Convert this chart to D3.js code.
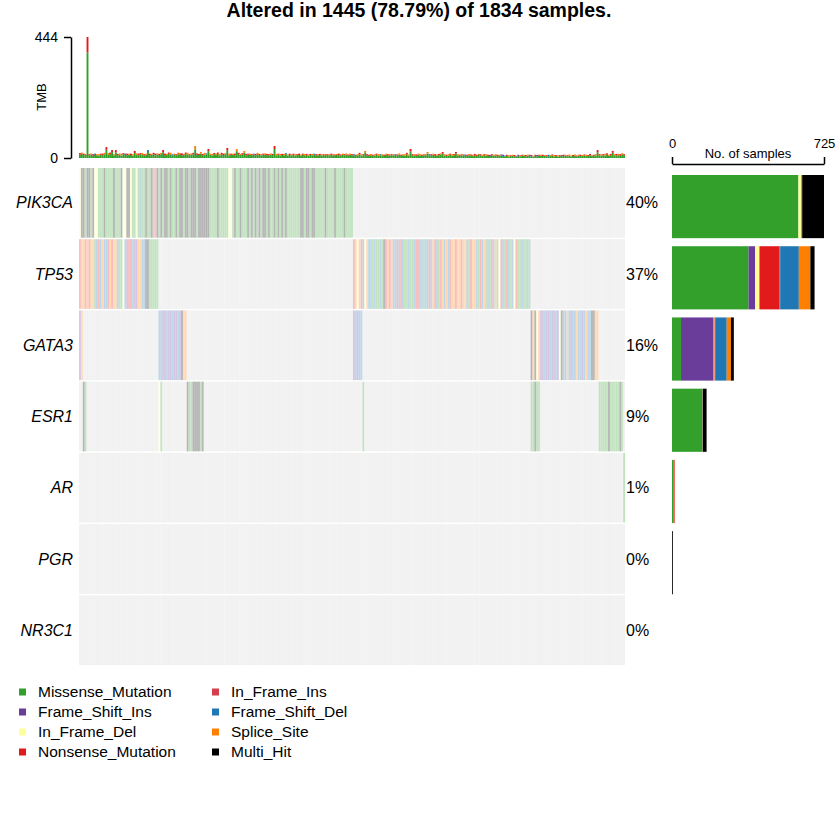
<!DOCTYPE html>
<html>
<head>
<meta charset="utf-8">
<script src="https://cdn.jsdelivr.net/npm/d3@7"></script>
<style>
  body { margin: 0; background: #fff; }
  svg { display: block; font-family: "Liberation Sans", Arial, sans-serif; }
</style>
</head>
<body>
<svg id="chart" width="840" height="840"></svg>
<script>
const genes = ["PIK3CA", "TP53", "GATA3", "ESR1", "AR", "PGR", "NR3C1"];
const pctLabels = ["40%", "37%", "16%", "9%", "1%", "0%", "0%"];
const types = ["Missense_Mutation", "Frame_Shift_Ins", "In_Frame_Del", "Nonsense_Mutation",
               "In_Frame_Ins", "Frame_Shift_Del", "Splice_Site", "Multi_Hit"];
const typeCodes = ["M", "I", "d", "N", "i", "D", "S", "X"];
const typeColors = ["#33A02C", "#6A3D9A", "#FFFF99", "#E31A1C",
                    "#D53E4F", "#1F78B4", "#FF7F00", "#000000"];

// no. of samples per gene and variant type (same order as types)
const geneCounts = [
  [603, 0, 14, 0, 4, 0, 0, 104],
  [365, 32, 20, 96, 3, 89, 55, 20],
  [43, 156, 4, 3, 0, 55, 20, 14],
  [144, 0, 2, 0, 0, 0, 0, 19],
  [9, 0, 2, 3, 0, 0, 0, 0],
  [0, 0, 0, 0, 0, 0, 0, 4],
  [0, 0, 0, 0, 0, 0, 0, 0]
];
const totalSamples = 1834;
const alteredSamples = 1445;
const samplesPerCell = 5;   // one drawn column = 5 altered samples
const maxBar = 725;
const maxTmb = 444;

// oncomatrix, [first column, codes]; "." = not mutated
const pik3caCells = [[0,
  "dXXMXXMXdd" + "MMMXMMMMXM" + "MMXddXXdMM" + "dMDMMXMMXi" + "iXMXMXXMXM" +
  "MXMXXMXXMX" + "XXMXXXXXXM" + "MMMXMMMMMd" + "dMXMMXMMMX" + "MXMXMXMXXM" +
  "XMMXMXMXMX" + "MMMMMMMXXM" + "XXMXXMMMMM" + "XMMMMXMMMM" + "XMMMM"]];
const tp53Cells = [
  [0, "NSSNSNSSMD" + "NDSDDNSNSS" + "DMMdDINNDI" + "ISSDDXXMMM" + "MM"],
  [145, "NSdSNDdSDD" + "MDMMDMXNSN" + "SDDNDNDMMD" + "MMDNNDDMDD" + "NDSNDMNSDS" +
        "DNSSNSSNSS" + "DMNSSDMNDS" + "MDMNDSMdND" + "MNDMDdNMMD" + "MMDM"]
];
const gata3Cells = [
  [0, "IS"],
  [42, "DDIIDIIDIIDIXSS"],
  [145, "IDIDD"],
  [239, "XSXdSIIDII" + "DIIDIdXDDS" + "DIDDSDDIDS" + "DDXXSS"]
];
const esr1Cells = [
  [2, "XM"],
  [42, "dM"],
  [57, "XMMXXXXMX"],
  [150, "M"],
  [239, "MMXMM"],
  [275, "MMMMMXMMMMMXM"]
];
const arCells = [[288, "M"]];
const pgrCells = [];
const nr3c1Cells = [];

// TMB per drawn column: missense part and the part stacked on top of it
const tmbMissense = [
  12,15,10,11,387,9,13,8,11,10, 9,12,10,14,30,11,15,22,10,20, 10,13,9,14,11,10,12,11,9,18,
  12,10,14,11,9,12,22,10,11,14, 10,12,11,14,21,10,11,15,12,9, 11,10,14,12,10,11,15,13,10,12,
  13,32,12,11,16,10,12,13,25,11, 10,14,11,15,10,12,11,14,28,10, 12,11,10,25,14,11,12,19,10,12,
  11,10,12,9,14,11,10,12,11,10, 10,12,11,33,10,12,9,11,10,14, 9,11,10,12,9,10,11,9,12,10,
  10,9,11,10,12,9,10,11,9,10, 11,9,10,12,10,9,11,10,9,11, 10,12,9,11,10,
  9,8,10,13,9,10,19,9,8,10, 8,9,12,8,10,9,8,12,9,10, 9,10,8,9,12,8,10,9,13,9,
  24,9,10,8,12,9,8,10,9,16, 10,9,12,8,9,10,13,16,9,8, 9,12,8,10,17,9,8,10,9,8,
  8,10,9,7,9,8,11,9,8,10, 9,8,7,9,8,10,7,8,9,7, 6,8,5,7,8,6,5,8,6,9,
  8,6,9,8,6,5,8,6,9,8, 7,8,6,7,8,9,6,8,5,7, 8,7,9,6,8,6,7,8,6,9,
  7,8,9,7,8,10,7,8,9,21, 9,8,10,9,12,8,9,19,10,9, 10,8,13,9
];
const tmbTop = [
  6,5,6,4,57,5,4,6,5,4, 5,4,6,5,10,7,5,7,4,9, 5,4,7,4,5,6,4,5,5,8,
  5,6,4,7,5,4,7,6,4,5, 6,5,4,5,8,6,4,5,7,5, 5,4,6,5,7,4,5,6,4,5,
  6,12,5,4,6,5,7,4,8,5, 5,4,6,5,4,7,5,4,9,6, 4,5,6,8,5,4,6,7,5,4,
  5,4,4,6,5,4,5,4,6,5, 4,5,4,11,5,4,6,4,5,4, 4,5,4,4,6,4,5,4,4,5,
  5,4,4,5,4,5,4,4,5,4, 4,5,4,4,5,4,4,6,4,5, 4,5,4,5,4,
  5,4,4,6,5,4,7,5,4,5, 4,5,4,6,4,5,4,4,5,4, 5,4,6,4,5,4,4,5,6,4,
  9,5,4,5,4,6,4,5,4,6, 4,5,4,6,4,5,4,6,5,4, 5,4,6,4,5,5,4,5,4,5,
  4,5,4,5,6,4,4,5,4,4, 5,4,4,5,4,4,5,4,4,5, 3,4,5,3,4,5,3,4,5,3,
  4,5,3,4,5,3,4,5,3,4, 5,3,4,5,3,4,5,3,5,3, 3,5,3,4,5,3,4,5,3,4,
  5,3,4,5,3,5,3,4,5,8, 5,6,4,7,5,4,6,7,5,6, 5,6,5,5
];
const tmbTopType = [
  "NSNSNNSNDS", "SNNSNSNNSN", "NSSNDNSNSN", "SNNSNSDNSN", "NSNSNNSNSD",
  "SNSNNSNSNS", "NSNNSNSDNS", "SNSNSNNSNS", "NSNSNSNSNN", "SNDNSNSNSN",
  "NSNNSNSNSD", "SNSNSNNSNS", "NSNSDNSNSN", "SNSNSNSNNS", "NSNSNDNSNS",
  "NSNNSNSNSD", "SNSNSNSDNS", "NSSNSNNSNS", "SNSNSDNSNS", "NSNSNSNSNN",
  "SNSNDNSNSN", "NSNSNSNINS", "SNSIIDNSNS", "NIISNSNSNI", "SNINSNSNDS",
  "NSNSNINSNS", "SNSNSNSNSN", "NSNSNNSNSN", "SNNSNSNSN"
].join("");

const geneCells = [pik3caCells, tp53Cells, gata3Cells, esr1Cells, arCells, pgrCells, nr3c1Cells];
const nCols = alteredSamples / samplesPerCell;
const colorOf = c => typeColors[typeCodes.indexOf(c)];

const svg = d3.select("#chart");

const x = d3.scaleBand().domain(d3.range(nCols)).range([79, 625]);
const y = d3.scaleBand().domain(genes).range([168, 665]).paddingInner(0.022);
const tmbY = d3.scaleLinear().domain([0, maxTmb]).range([158, 37]);
const barX = d3.scaleLinear().domain([0, maxBar]).range([672, 824]);

// title
svg.append("text")
  .attr("x", 419).attr("y", 17)
  .attr("text-anchor", "middle")
  .style("font-size", "19.5px").style("font-weight", "bold")
  .text(`Altered in ${alteredSamples} (${(alteredSamples / totalSamples * 100).toFixed(2)}%) of ${totalSamples} samples.`);

// TMB stacked bars
const tmbG = svg.append("g");
tmbMissense.forEach((v, i) => {
  tmbG.append("rect")
    .attr("x", x(i)).attr("width", x.bandwidth())
    .attr("y", tmbY(v)).attr("height", tmbY(0) - tmbY(v))
    .attr("fill", typeColors[0]);
  const t = tmbTop[i];
  tmbG.append("rect")
    .attr("x", x(i)).attr("width", x.bandwidth())
    .attr("y", tmbY(v + t)).attr("height", tmbY(v) - tmbY(v + t))
    .attr("fill", colorOf(tmbTopType[i]));
});

const tmbAxis = svg.append("g")
  .attr("transform", "translate(71,0)")
  .call(d3.axisLeft(tmbY).tickValues([0, maxTmb]).tickSize(7).tickSizeOuter(0).tickPadding(6));
tmbAxis.select(".domain").attr("stroke", "#000").attr("stroke-width", 1.5);
tmbAxis.selectAll(".tick line").attr("stroke", "#000").attr("stroke-width", 1.5);
tmbAxis.selectAll("text").style("font-size", "14px").attr("fill", "#000");

svg.append("text")
  .attr("transform", "translate(46,97) rotate(-90)")
  .attr("text-anchor", "middle")
  .style("font-size", "13px")
  .text("TMB");

// oncomatrix
const heat = svg.append("g");
genes.forEach((g, gi) => {
  const codes = new Array(nCols).fill(".");
  geneCells[gi].forEach(([start, s]) => {
    for (let k = 0; k < s.length; k++) codes[start + k] = s[k];
  });
  const row = heat.append("g");
  row.selectAll("rect")
    .data(codes)
    .join("rect")
      .attr("x", (d, i) => x(i))
      .attr("width", x.bandwidth() + 0.05)
      .attr("y", y(g))
      .attr("height", y.bandwidth())
      .attr("fill", d => d === "." ? "#CCCCCC" : colorOf(d))
      .attr("fill-opacity", d => d === "." ? 0.27 : 0.3);
  row.selectAll("line")
    .data(codes)
    .join("line")
      .attr("x1", (d, i) => x(i)).attr("x2", (d, i) => x(i))
      .attr("y1", y(g)).attr("y2", y(g) + y.bandwidth())
      .attr("stroke", "#fff")
      .attr("stroke-width", 0.5)
      .attr("stroke-opacity", 0.45);
});

// gene names and percentages
svg.append("g").selectAll("text")
  .data(genes)
  .join("text")
    .attr("x", 73)
    .attr("y", d => y(d) + y.bandwidth() / 2)
    .attr("dy", "0.35em")
    .attr("text-anchor", "end")
    .style("font-size", "16px").style("font-style", "italic")
    .text(d => d);

svg.append("g").selectAll("text")
  .data(pctLabels)
  .join("text")
    .attr("x", 626)
    .attr("y", (d, i) => y(genes[i]) + y.bandwidth() / 2)
    .attr("dy", "0.35em")
    .style("font-size", "16px")
    .text(d => d);

// right-hand bar chart
const barG = svg.append("g");
geneCounts.forEach((counts, gi) => {
  let cum = 0;
  counts.forEach((c, ti) => {
    if (c > 0) {
      barG.append("rect")
        .attr("x", barX(cum))
        .attr("width", barX(cum + c) - barX(cum))
        .attr("y", y(genes[gi]) + 7)
        .attr("height", y.bandwidth() - 6.5)
        .attr("fill", typeColors[ti]);
    }
    cum += c;
  });
});

const barAxis = svg.append("g")
  .attr("transform", "translate(0,164)")
  .call(d3.axisTop(barX).tickValues([0, maxBar]).tickSize(7).tickSizeOuter(0).tickPadding(9));
barAxis.select(".domain").attr("stroke", "#000").attr("stroke-width", 1.5);
barAxis.selectAll(".tick line").attr("stroke", "#000").attr("stroke-width", 1.5);
barAxis.selectAll("text").style("font-size", "13px").attr("fill", "#000");

svg.append("text")
  .attr("x", 748).attr("y", 158)
  .attr("text-anchor", "middle")
  .style("font-size", "13px")
  .text("No. of samples");

// legend
const legend = svg.append("g");
types.forEach((t, i) => {
  const col = Math.floor(i / 4), r = i % 4;
  const lx = col === 0 ? 19 : 212;
  const ly = 692 + r * 20;
  legend.append("rect")
    .attr("x", lx).attr("y", ly - 3.5)
    .attr("width", 7).attr("height", 7)
    .attr("fill", typeColors[i]);
  legend.append("text")
    .attr("x", lx + 19).attr("y", ly)
    .attr("dy", "0.35em")
    .style("font-size", "15.5px")
    .text(t);
});
</script>
</body>
</html>
